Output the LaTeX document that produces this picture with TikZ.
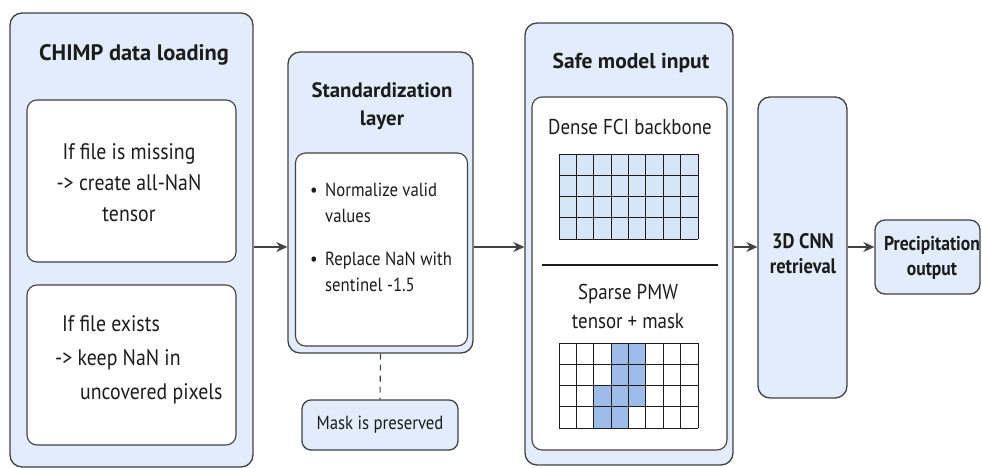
\documentclass[tikz,border=0pt]{standalone}
\usepackage{fontspec}
\setmainfont{PT Sans}[FakeStretch=0.88]
\newfontfamily\headfont{PT Sans}
\usetikzlibrary{arrows.meta}

\definecolor{panel}{RGB}{226,236,250}
\definecolor{cellblue}{RGB}{214,229,248}
\definecolor{maskblue}{RGB}{158,188,232}
\definecolor{edge}{RGB}{66,66,66}
\definecolor{ink}{RGB}{28,28,28}

\tikzset{
  panelbox/.style={draw=edge, line width=1.3pt, rounded corners=12pt, fill=panel, inner sep=0pt},
  innerbox/.style={draw=edge, line width=1.1pt, rounded corners=10pt, fill=white, inner sep=0pt},
  titletext/.style={text=ink, align=center, inner sep=0pt},
  bodytext/.style={text=ink, inner sep=0pt},
  flow/.style={-{Stealth[length=11pt,width=10pt]}, line width=1.5pt, draw=edge},
  gridline/.style={draw=ink, line width=1pt},
}

\begin{document}
\begin{tikzpicture}[x=1pt, y=-1pt]
\useasboundingbox (0,0) rectangle (982,468);

% ---------- CHIMP data loading ----------
\node[panelbox, minimum width=243pt, minimum height=454pt] (load) at (131.5,240) {};
\node[titletext, font=\headfont\fontsize{22.4}{28}\selectfont\bfseries] (loadtitle) at (134,55) {CHIMP data loading};
\node[innerbox, minimum width=209pt, minimum height=162pt] (missing) at (131.5,181) {};
\node[bodytext, align=center, font=\fontsize{22.5}{31}\selectfont] (missingtxt) at (129,183)
  {If file is missing\\-> create all-NaN\\tensor};
\node[innerbox, minimum width=209pt, minimum height=160pt] (exists) at (131.5,365) {};
\node[bodytext, align=left, anchor=west, font=\fontsize{22.5}{34}\selectfont] (existstxt) at (55,360)
  {\hspace*{7pt}If file exists\\-> keep NaN in\\\hspace*{25pt}uncovered pixels};

% ---------- Standardization layer ----------
\node[panelbox, minimum width=185pt, minimum height=301pt] (std) at (380.5,202.5) {};
\node[titletext, font=\headfont\fontsize{20.8}{28}\selectfont\bfseries] (stdtitle) at (382,106) {Standardization\\layer};
\node[innerbox, minimum width=172pt, minimum height=193pt] (stdin) at (381.5,249.5) {};
\node[bodytext, font=\fontsize{19}{26.5}\selectfont, align=left, anchor=west] (norm) at (310,203)
  {\makebox[15pt][l]{•}Normalize valid\\\hspace*{15pt}values};
\node[bodytext, font=\fontsize{19}{26.5}\selectfont, align=left, anchor=west] (repl) at (310,272)
  {\makebox[15pt][l]{•}Replace NaN with\\\hspace*{15pt}sentinel -1.5};

\node[panelbox, rounded corners=9pt, minimum width=156pt, minimum height=50pt,
      font=\fontsize{19}{22}\selectfont, text=ink] (mask) at (380,425) {Mask is preserved};
\draw[draw=edge, line width=1.1pt, dash pattern=on 6pt off 5pt] (std.south) -- (mask.north);

% ---------- Safe model input ----------
\node[panelbox, minimum width=208pt, minimum height=442pt] (safe) at (629,244) {};
\node[titletext, font=\headfont\fontsize{21.5}{26}\selectfont\bfseries] (safetitle) at (631,63) {Safe model input};
\node[innerbox, minimum width=195pt, minimum height=353pt] (safein) at (629.5,273.5) {};
\node[bodytext, font=\fontsize{21.5}{29}\selectfont] (dense) at (630,127) {Dense FCI backbone};
\draw[ink, line width=1.1pt] (542,265) -- (718,265);
\node[bodytext, font=\fontsize{21.5}{29}\selectfont, align=center] (sparse) at (628,306) {Sparse PMW\\tensor + mask};

% dense grid: every cell filled
\fill[cellblue] (559,154) rectangle (698,239);
\foreach \i in {0,...,8} \draw[gridline] ({559+\i*17.375},154) -- ({559+\i*17.375},239);
\foreach \j in {0,...,4} \draw[gridline] (559,{154+\j*21.25}) -- (698,{154+\j*21.25});

% sparse grid: only covered cells filled
\foreach \c/\r in {3/0,4/0,3/1,4/1,2/2,3/2,4/2,2/3,3/3}
  \fill[maskblue] ({559+\c*17.375},{343+\r*21.25}) rectangle ({559+(\c+1)*17.375},{343+(\r+1)*21.25});
\foreach \i in {0,...,8} \draw[gridline] ({559+\i*17.375},343) -- ({559+\i*17.375},428);
\foreach \j in {0,...,4} \draw[gridline] (559,{343+\j*21.25}) -- (698,{343+\j*21.25});

% ---------- 3D CNN retrieval ----------
\node[panelbox, minimum width=89pt, minimum height=301pt] (cnn) at (802.5,247.5) {};
\node[titletext, font=\fontsize{21}{25}\selectfont\bfseries] (cnntxt) at (803,254) {3D CNN\\retrieval};

% ---------- Precipitation output ----------
\node[panelbox, rounded corners=10pt, minimum width=105pt, minimum height=74pt] (out) at (927.5,257) {};
\node[titletext, font=\fontsize{20}{25}\selectfont\bfseries] (outtxt) at (932,258) {Precipitation\\output};

% ---------- connectors ----------
\draw[flow] (load.east |- 0,247) -- (std.west |- 0,247);
\draw[flow] (std.east |- 0,247) -- (safe.west |- 0,247);
\draw[flow] (safe.east |- 0,247) -- (cnn.west |- 0,247);
\draw[flow] (cnn.east |- 0,247) -- (out.west |- 0,247);
\end{tikzpicture}
\end{document}
